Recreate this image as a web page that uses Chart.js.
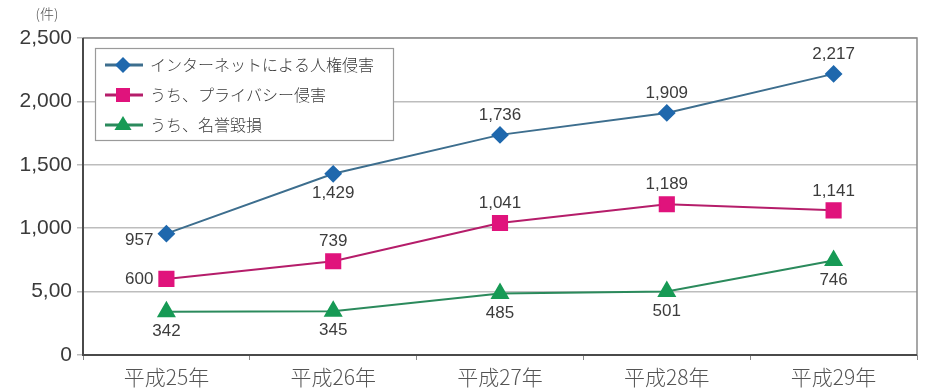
<!DOCTYPE html>
<html>
<head>
<meta charset="utf-8">
<script src="https://cdn.jsdelivr.net/npm/chart.js@4/dist/chart.umd.min.js"></script>
<style>
html,body{margin:0;padding:0;background:#fff;}
#wrap{width:929px;height:392px;position:relative;}
</style>
</head>
<body>
<div id="wrap"><canvas id="c" width="929" height="392"></canvas></div>
<script>
const categories = ['平成25年','平成26年','平成27年','平成28年','平成29年'];
const seriesNames = ['インターネットによる人権侵害','うち、プライバシー侵害','うち、名誉毀損'];
const internetTotal = [957, 1429, 1736, 1909, 2217];
const privacy = [600, 739, 1041, 1189, 1141];
const defamation = [342, 345, 485, 501, 746];
const yTickValues = [0, 500, 1000, 1500, 2000, 2500];
const yTickLabels = ['0', '5,00', '1,000', '1,500', '2,000', '2,500'];
const unitLabel = '(件)';

const labelPos = [
  ['left','below','above','above','above'],
  ['left','above','above','above','above'],
  ['below','below','below','below','below']
];

const JP = '"Noto Sans CJK JP", "Noto Sans", sans-serif';
const NUM = '"Liberation Sans", Arial, sans-serif';

function fmt(v){ return v.toLocaleString('en-US'); }

const frame = {
  id:'frame',
  afterDraw(chart){
    const {ctx, chartArea:a} = chart;
    ctx.save();
    ctx.strokeStyle = '#8a8a8a';
    ctx.lineWidth = 1.5;
    ctx.beginPath();
    ctx.moveTo(a.left, a.top); ctx.lineTo(a.right, a.top); ctx.lineTo(a.right, a.bottom);
    ctx.stroke();
    ctx.strokeStyle = '#4a4a4a';
    ctx.lineWidth = 2;
    ctx.beginPath();
    ctx.moveTo(a.left, a.top); ctx.lineTo(a.left, a.bottom); ctx.lineTo(a.right, a.bottom);
    ctx.stroke();
    ctx.fillStyle = '#555';
    ctx.font = '300 14px ' + JP;
    ctx.textAlign = 'center';
    ctx.textBaseline = 'middle';
    ctx.fillText(unitLabel, 47, 14);
    ctx.restore();
  }
};

const valueLabels = {
  id:'valueLabels',
  afterDatasetsDraw(chart){
    const ctx = chart.ctx;
    ctx.save();
    ctx.fillStyle = '#3c3c3c';
    ctx.font = '17px ' + NUM;
    chart.data.datasets.forEach((ds, di) => {
      const meta = chart.getDatasetMeta(di);
      meta.data.forEach((pt, i) => {
        const pos = labelPos[di][i];
        const t = fmt(ds.data[i]);
        if (pos === 'left') {
          ctx.textAlign = 'right'; ctx.textBaseline = 'middle';
          ctx.fillText(t, pt.x - 13, pt.y + (di === 0 ? 7 : 0));
        } else if (pos === 'above') {
          ctx.textAlign = 'center'; ctx.textBaseline = 'bottom';
          ctx.fillText(t, pt.x, pt.y - 11);
        } else {
          ctx.textAlign = 'center'; ctx.textBaseline = 'top';
          ctx.fillText(t, pt.x, pt.y + 11);
        }
      });
    });
    ctx.restore();
  }
};

const boxLegend = {
  id:'boxLegend',
  afterDatasetsDraw(chart){
    const ctx = chart.ctx;
    const x0 = 95, y0 = 48, w = 298, h = 92;
    ctx.save();
    ctx.fillStyle = '#fff';
    ctx.fillRect(x0, y0, w, h);
    ctx.strokeStyle = '#9a9a9a';
    ctx.lineWidth = 1.2;
    ctx.strokeRect(x0 + 0.5, y0 + 0.5, w, h);
    chart.data.datasets.forEach((ds, i) => {
      const cy = y0 + 17 + i * 30;
      const mx = x0 + 28;
      ctx.strokeStyle = ds.borderColor;
      ctx.lineWidth = 3;
      ctx.beginPath(); ctx.moveTo(x0 + 10, cy); ctx.lineTo(x0 + 48, cy); ctx.stroke();
      ctx.fillStyle = ds.pointBackgroundColor;
      ctx.beginPath();
      if (ds.pointStyle === 'rectRot') {
        const r = 8;
        ctx.moveTo(mx, cy-r); ctx.lineTo(mx+r, cy); ctx.lineTo(mx, cy+r); ctx.lineTo(mx-r, cy);
      } else if (ds.pointStyle === 'rect') {
        const r = 7;
        ctx.rect(mx-r, cy-r, 2*r, 2*r);
      } else {
        const r = 9;
        ctx.moveTo(mx, cy-r); ctx.lineTo(mx+r*0.95, cy+r*0.55); ctx.lineTo(mx-r*0.95, cy+r*0.55);
      }
      ctx.closePath(); ctx.fill();
      ctx.fillStyle = '#3a3a3a';
      ctx.font = '300 16px ' + JP;
      ctx.textAlign = 'left'; ctx.textBaseline = 'middle';
      ctx.fillText(ds.label, x0 + 55, cy);
    });
    ctx.restore();
  }
};

new Chart(document.getElementById('c'), {
  type:'line',
  data:{
    labels: categories,
    datasets:[
      {label: seriesNames[0], data: internetTotal, borderColor:'#3d6e8e', backgroundColor:'#1f68ad',
       pointBackgroundColor:'#1f68ad', pointBorderColor:'#1f68ad', pointStyle:'rectRot', pointRadius:7.5, borderWidth:2},
      {label: seriesNames[1], data: privacy, borderColor:'#b51d6a', backgroundColor:'#e0137c',
       pointBackgroundColor:'#e0137c', pointBorderColor:'#e0137c', pointStyle:'rect', pointRadius:10, borderWidth:2},
      {label: seriesNames[2], data: defamation, borderColor:'#2b8a5c', backgroundColor:'#179a55',
       pointBackgroundColor:'#179a55', pointBorderColor:'#179a55', pointStyle:'triangle', pointRadius:9, borderWidth:2}
    ]
  },
  options:{
    responsive:false,
    animation:false,
    layout:{padding:{top:38, right:7, left:0, bottom:0}},
    plugins:{legend:{display:false}, tooltip:{enabled:false}},
    elements:{line:{tension:0}},
    scales:{
      x:{
        offset:true,
        grid:{drawOnChartArea:false, offset:true, tickLength:5, color:'#888'},
        border:{display:false},
        ticks:{color:'#555', font:{size:21, family:JP, weight:300}, padding:4},
        afterFit(s){ s.height = 37; }
      },
      y:{
        min:0, max:2500,
        afterBuildTicks(s){ s.ticks = yTickValues.map(v => ({value:v})); },
        grid:{color:'#bdbdbd', lineWidth:1.5, tickLength:6, drawTicks:true},
        border:{display:false},
        ticks:{color:'#3a3a3a', font:{size:21, family:NUM}, padding:5,
          callback(v){ const i = yTickValues.indexOf(v); return i >= 0 ? yTickLabels[i] : ''; }},
        afterFit(s){ s.width = 83; }
      }
    }
  },
  plugins:[frame, valueLabels, boxLegend]
});
</script>
</body>
</html>
